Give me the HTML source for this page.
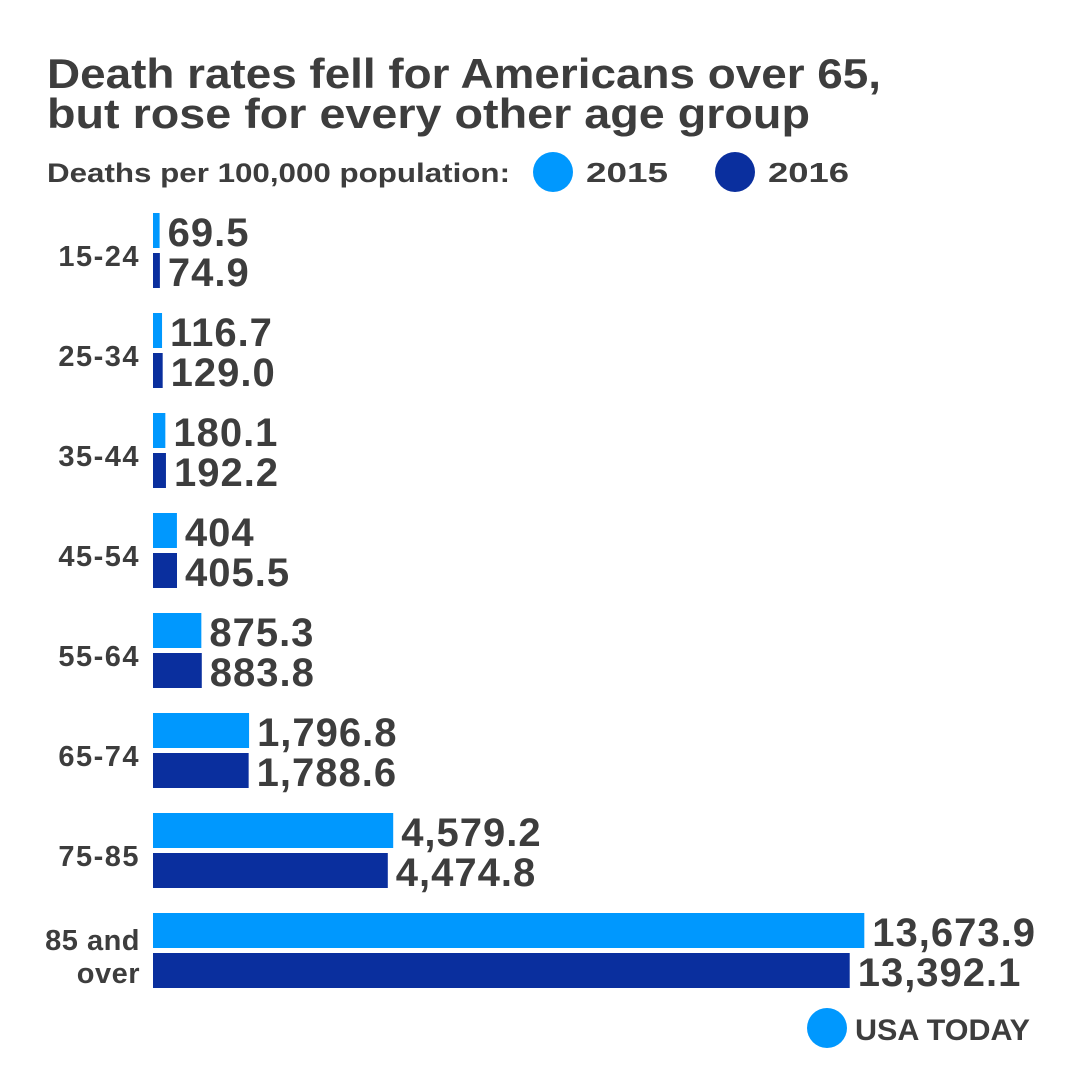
<!DOCTYPE html>
<html><head><meta charset="utf-8"><style>
html,body{margin:0;padding:0;background:#fff}
svg{display:block}
text{font-family:"Liberation Sans",sans-serif;font-weight:bold;fill:#3d3d3d}
</style></head><body>
<svg id="chart" width="1080" height="1080" viewBox="0 0 1080 1080" xmlns="http://www.w3.org/2000/svg">
<rect width="1080" height="1080" fill="#fff"/>
<text x="47" y="88" font-size="42" textLength="834" lengthAdjust="spacingAndGlyphs">Death rates fell for Americans over 65,</text>
<text x="47" y="128" font-size="42" textLength="763" lengthAdjust="spacingAndGlyphs">but rose for every other age group</text>
<text x="47" y="182" font-size="27" textLength="463" lengthAdjust="spacingAndGlyphs">Deaths per 100,000 population:</text>
<circle cx="553" cy="172" r="20" fill="#0098fe"/>
<text x="586" y="182" font-size="28" textLength="82" lengthAdjust="spacingAndGlyphs">2015</text>
<circle cx="735" cy="172" r="20" fill="#0a2f9e"/>
<text x="768" y="182" font-size="28" textLength="81" lengthAdjust="spacingAndGlyphs">2016</text>
<g id="bars"></g>
<circle cx="827" cy="1028" r="20" fill="#0098fe"/>
<text x="855" y="1040" font-size="30" textLength="175" lengthAdjust="spacingAndGlyphs">USA TODAY</text>
</svg>
<script>
const categories = ["15-24","25-34","35-44","45-54","55-64","65-74","75-85","85 and over"];
const values2015 = [69.5,116.7,180.1,404,875.3,1796.8,4579.2,13673.9];
const values2016 = [74.9,129.0,192.2,405.5,883.8,1788.6,4474.8,13392.1];
const labels2015 = ["69.5","116.7","180.1","404","875.3","1,796.8","4,579.2","13,673.9"];
const labels2016 = ["74.9","129.0","192.2","405.5","883.8","1,788.6","4,474.8","13,392.1"];

const NS = "http://www.w3.org/2000/svg";
const g = document.getElementById('bars');
const x0 = 153;
function xw(v){ return 3 + v * 0.0518; }
function yTop(i){ return 213 + i * 100; }
const barH = 35;
function mk(tag, attrs){ const e = document.createElementNS(NS, tag); for (const k in attrs) e.setAttribute(k, attrs[k]); g.appendChild(e); return e; }

categories.forEach((c, i) => {
  const y = yTop(i);
  const r1 = mk('rect', {x: x0, y: y, width: xw(values2015[i]), height: barH, fill: '#0098fe'});
  
  
  const r2 = mk('rect', {x: x0, y: y + 40, width: xw(values2016[i]), height: barH, fill: '#0a2f9e'});
  
  
  const t1 = mk('text', {x: x0 + xw(values2015[i]) + 8, y: y + 33, 'font-size': 40, 'letter-spacing': 1});
  t1.textContent = labels2015[i];
  
  
  const t2 = mk('text', {x: x0 + xw(values2016[i]) + 8, y: y + 73, 'font-size': 40, 'letter-spacing': 1});
  t2.textContent = labels2016[i];
  
  
  if (c === "85 and over") {
    const a = mk('text', {x: 140, y: y + 37, 'font-size': 29, 'text-anchor': 'end', 'letter-spacing': 0.5});
    a.textContent = "85 and";
    
    
    const b = mk('text', {x: 140, y: y + 70, 'font-size': 29, 'text-anchor': 'end', 'letter-spacing': 0.5});
    b.textContent = "over";
    
    
  } else {
    const l = mk('text', {x: 140, y: y + 53, 'font-size': 29, 'text-anchor': 'end', 'letter-spacing': 1.5});
    l.textContent = c;
    
    
  }
});
</script>
</body></html>
